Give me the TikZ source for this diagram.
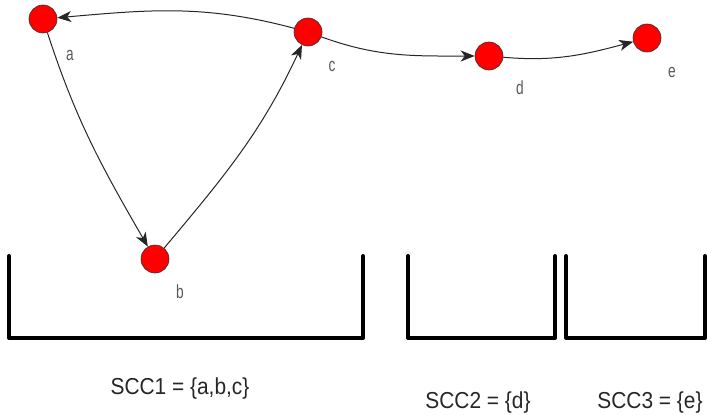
\documentclass[tikz,border=0pt]{standalone}
\usepackage{fontspec}
\setmainfont{Liberation Sans}
\usetikzlibrary{arrows.meta}
\begin{document}
\begin{tikzpicture}[x=1pt,y=-1pt,
  vert/.style={circle,draw=black!80,line width=0.6pt,fill=red,minimum size=28pt,inner sep=0pt},
  lbl/.style={text=black!65,inner sep=0pt,font=\fontsize{19}{20}\selectfont},
  edge/.style={-{Stealth[length=14pt,width=11pt,inset=4pt]},line width=1pt,black!85},
  bucket/.style={line width=4pt,line cap=round,line join=round,black},
  scc/.style={inner sep=0pt,text=black!85,font=\fontsize{22}{24}\selectfont}]
\useasboundingbox (0,0) rectangle (707,415);
\node[vert] (a) at (43,19) {};
\node[vert] (c) at (308,32) {};
\node[vert] (d) at (489,56) {};
\node[vert] (e) at (647,38) {};
\node[vert] (b) at (155,259) {};
\node[lbl] (la) at (70,55) {\scalebox{0.72}[1]{a}};
\node[lbl] (lc) at (332,66) {\scalebox{0.72}[1]{c}};
\node[lbl] (ld) at (520,88) {\scalebox{0.72}[1]{d}};
\node[lbl] (le) at (672,72) {\scalebox{0.72}[1]{e}};
\node[lbl] (lb) at (180,292) {\scalebox{0.72}[1]{b}};
\draw[edge] (c) to[out=165,in=5] (a);
\draw[edge] (a) to[out=-72,in=120] (b);
\draw[edge] (b) to[out=50,in=-115] (c);
\draw[edge] (c) to[out=-20,in=180] (d);
\draw[edge] (d) to[out=-5,in=195] (e);
\coordinate (s1a) at (9,256); \coordinate (s1b) at (9,338);
\coordinate (s1c) at (363,338); \coordinate (s1d) at (363,256);
\draw[bucket] (s1a) -- (s1b) -- (s1c) -- (s1d);
\coordinate (s2a) at (408,256); \coordinate (s2b) at (408,338);
\coordinate (s2c) at (555,338); \coordinate (s2d) at (555,256);
\draw[bucket] (s2a) -- (s2b) -- (s2c) -- (s2d);
\coordinate (s3a) at (566,256); \coordinate (s3b) at (566,338);
\coordinate (s3c) at (705,338); \coordinate (s3d) at (705,256);
\draw[bucket] (s3a) -- (s3b) -- (s3c) -- (s3d);
\node[scc] (t1) at (180,389) {\scalebox{0.95}[1.05]{SCC1 = \{a,b,c\}}};
\node[scc] (t2) at (478,403) {\scalebox{0.95}[1.05]{SCC2 = \{d\}}};
\node[scc] (t3) at (650,403) {\scalebox{0.95}[1.05]{SCC3 = \{e\}}};
\end{tikzpicture}
\end{document}
